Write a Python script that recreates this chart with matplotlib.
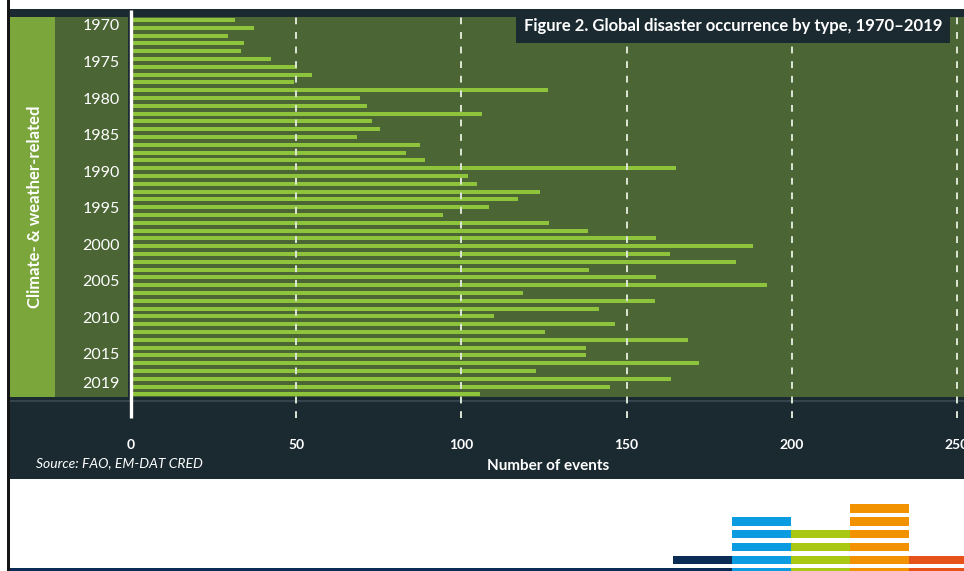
import matplotlib
matplotlib.use("Agg")
import matplotlib.pyplot as plt
from matplotlib.patches import Rectangle
from matplotlib.transforms import blended_transform_factory
import numpy as np

# ---------------- data ----------------
# Climate- & weather-related disaster events, one bar per row (top to bottom)
events = [31.4, 37.1, 29.5, 34.2, 33.4, 42.3, 50.2, 54.8, 49.3, 126.3,
          69.4, 71.5, 106.3, 72.9, 75.5, 68.4, 87.6, 83.3, 89.1, 165.1,
          101.9, 104.8, 123.8, 117.0, 108.4, 94.4, 126.6, 138.2, 158.8, 188.2,
          163.1, 183.2, 138.7, 158.8, 192.6, 118.6, 158.5, 141.5, 110.0, 146.5,
          125.2, 168.5, 137.8, 137.8, 171.9, 122.5, 163.3, 144.9, 105.5]
year_labels = [1970, 1975, 1980, 1985, 1990, 1995, 2000, 2005, 2010, 2015, 2019]
x_ticks = [0, 50, 100, 150, 200, 250]
title = "Figure 2. Global disaster occurrence by type, 1970\u20132019"
group_label = "Climate- & weather-related"
x_label = "Number of events"
source = "Source: FAO, EM-DAT CRED"

# ---------------- style ----------------
W, H = 964, 571
NAVY = "#1b2a31"
PLOT_BG = "#4b6535"
STRIP = "#7ba63c"
BAR = "#8ec43b"
FONT = ["Lato", "DejaVu Sans"]
plt.rcParams["font.family"] = FONT

fig = plt.figure(figsize=(W / 100, H / 100), dpi=100, facecolor="white")


def frect(x0, y0, x1, y1, color, z=-5):
    r = Rectangle((x0 / W, 1 - y1 / H), (x1 - x0) / W, (y1 - y0) / H,
                  transform=fig.transFigure, facecolor=color,
                  edgecolor="none", zorder=z)
    fig.add_artist(r)
    return r


# backgrounds / decoration
frect(7, 0, 10, 571, "#151515")
frect(10, 9, 964, 479, NAVY)
frect(10, 17, 55, 397, STRIP)
frect(55, 17, 128, 397, PLOT_BG)
frect(10, 400.3, 964, 401.6, "#33444c")
frect(10, 567.5, 732, 571, "#0d2c55")

# logo stripes
logo = [  # (x0, x1, color, n stripes)
    (673, 732, "#0d2c55", 1),
    (732, 791, "#0a9be0", 4),
    (791, 850, "#a9c814", 3),
    (850, 909, "#f39200", 5),
    (909, 964, "#e5531a", 1),
]
for x0, x1, col, n in logo:
    for k in range(n):
        y1 = 564 - k * 12.8
        frect(x0, y1 - 8.5, x1, y1, col, z=-4)
    if x0 > 700:
        frect(x0, 567.5, x1, 571, col, z=-4)

# ---------------- axes ----------------
ax_l, ax_r, ax_t, ax_b = 131, 964, 17, 397
ax = fig.add_axes([ax_l / W, 1 - ax_b / H, (ax_r - ax_l) / W, (ax_b - ax_t) / H])
ax.set_facecolor(PLOT_BG)
for s in ax.spines.values():
    s.set_visible(False)

n = len(events)
rows = np.arange(n)
ax.barh(rows, events, height=0.5, color=BAR, zorder=2)

px_per_unit = (957 - 131) / 250.0
ax.set_xlim(0, (ax_r - ax_l) / px_per_unit)
row_px = 7.8
ax.set_ylim((ax_b - 20) / row_px, -(20 - ax_t) / row_px)

# y tick labels (year scale as printed in the source graphic)
ytick_pos = [0.64 + (y - year_labels[0]) * 0.936 for y in year_labels]
ax.set_yticks(ytick_pos)
ax.set_yticklabels([str(y) for y in year_labels], color="white", fontsize=11.5)
ax.set_xticks(x_ticks)
ax.set_xticklabels([str(v) for v in x_ticks], color="white", fontsize=10,
                   fontweight="bold")
ax.tick_params(axis="both", length=0)
ax.tick_params(axis="x", pad=30)
ax.tick_params(axis="y", pad=8)

# dashed gridlines, extending into the bottom band
trans = blended_transform_factory(ax.transData, ax.transAxes)
y_lo = -(418 - ax_b) / (ax_b - ax_t)
y_hi = 1 + (ax_t - 10) / (ax_b - ax_t)
for v in x_ticks[1:]:
    ax.plot([v, v], [y_lo, y_hi], transform=trans, color="#dfe6d6",
            lw=1.4, ls=(0, (3.5, 4)), clip_on=False, zorder=3)
ax.plot([0, 0], [y_lo, y_hi], transform=trans, color="white", lw=2.4,
        clip_on=False, zorder=4, solid_capstyle="butt")

# title box
frect(516, 9, 950, 43, NAVY, z=10)
fig.text(733 / W, 1 - 26 / H, title, color="white", fontsize=12,
         fontweight="bold", ha="center", va="center", zorder=11)

# texts
fig.text(35 / W, 1 - 207 / H, group_label, rotation=90, color="white",
         fontsize=12, fontweight="bold", ha="center", va="center")
fig.text(36 / W, 1 - 463 / H, source, color="white", fontsize=10,
         style="italic", ha="left", va="center")
fig.text(548 / W, 1 - 466 / H, x_label, color="white", fontsize=11,
         fontweight="bold", ha="center", va="center")

fig.savefig("out.png", dpi=100, facecolor="white")
